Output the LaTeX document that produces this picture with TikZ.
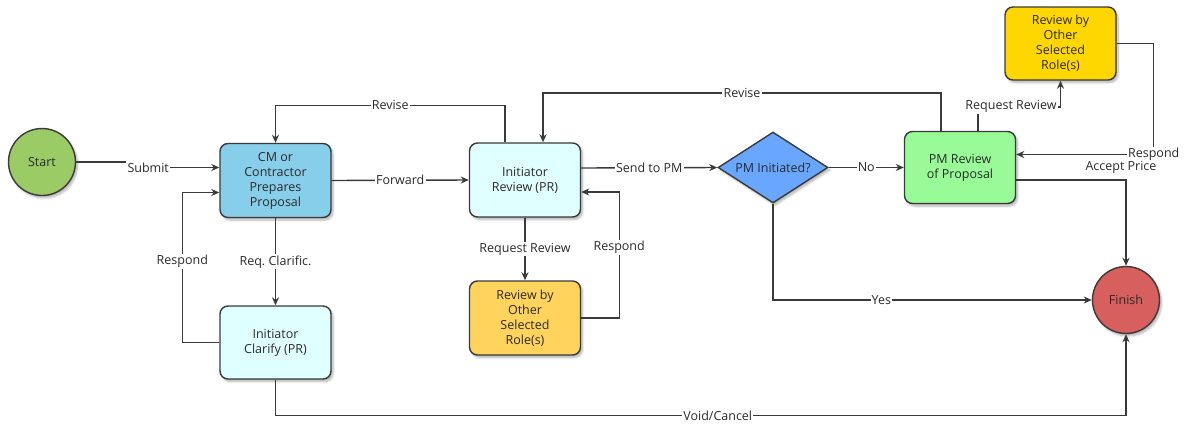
\documentclass[tikz,border=0pt]{standalone}
\usepackage{fontspec}
\setmainfont{Open Sans}
\usetikzlibrary{shapes.geometric,arrows.meta,shadows.blur}

\definecolor{linec}{HTML}{3A3A3A}
\definecolor{textc}{HTML}{2A2A2A}
\definecolor{startc}{HTML}{9BCB65}
\definecolor{cmc}{HTML}{87CEEB}
\definecolor{initc}{HTML}{E0FFFF}
\definecolor{otherc}{HTML}{FFD35C}
\definecolor{diac}{HTML}{68A6FF}
\definecolor{pmc}{HTML}{98FB98}
\definecolor{goldc}{HTML}{FFD700}
\definecolor{finc}{HTML}{D75F5E}

\begin{document}
\frenchspacing
\begin{tikzpicture}[x=1pt,y=-1pt,
  txt/.style={font=\fontsize{12.5}{15}\selectfont, text=textc},
  shadowed/.style={blur shadow={shadow xshift=2pt, shadow yshift=-2.5pt,
      shadow opacity=30, shadow blur steps=6}},
  box/.style={txt, shadowed, rectangle, rounded corners=8pt, draw=linec,
      line width=1.4pt, minimum width=111pt, minimum height=74pt,
      align=center, inner sep=2pt},
  term/.style={txt, shadowed, circle, draw=linec, line width=1.4pt,
      minimum size=67pt, inner sep=0pt},
  decision/.style={txt, shadowed, diamond, aspect=1.55, draw=linec,
      line width=1.4pt, minimum width=110pt, minimum height=71pt, inner sep=0pt},
  flow/.style={draw=linec, line width=1.4pt,
      -{Stealth[length=8pt, width=7pt, inset=2.5pt]}},
  lbl/.style={txt, fill=white, inner sep=1.2pt}
]
\useasboundingbox (0,0) rectangle (1188,424);

% process steps
\node[term, fill=startc] (start) at (42,162) {Start};
\node[box, fill=cmc] (cm) at (275.5,180.5) {CM or\\Contractor\\Prepares\\Proposal};
\node[box, fill=initc, minimum height=73pt] (clar) at (275.5,342.5) {Initiator\\Clarify (PR)};
\node[box, fill=initc] (ir) at (525,180) {Initiator\\Review (PR)};
\node[box, fill=otherc] (rv1) at (525,318) {Review by\\Other\\Selected\\Role(s)};
\node[decision, fill=diac] (dia) at (773,167.5) {PM Initiated?};
\node[box, fill=pmc, minimum height=72pt] (pm) at (960,167.5) {PM Review\\of Proposal};
\node[box, fill=goldc, minimum height=73pt] (rv2) at (1060.5,43.5) {Review by\\Other\\Selected\\Role(s)};
\node[term, fill=finc] (fin) at (1126,300) {Finish};

% connectors
\draw[flow] (start.east) -- ++(72,0) |- node[lbl, pos=0.5]{Submit} ([yshift=13pt]cm.west);
\draw[flow] (cm.east) -- node[lbl]{Forward} (ir.west);
\draw[flow] ([xshift=-20pt]ir.north) -- ++(0,-37) -| node[lbl, pos=0.25]{Revise} (cm.north);
\draw[flow] (cm.south) -- node[lbl]{Req. Clarific.} (clar.north);
\draw[flow] (clar.west) -- ++(-37,0) |- node[lbl, pos=0.27]{Respond} ([yshift=-12pt]cm.west);
\draw[flow] ([yshift=12pt]ir.east) -- node[lbl]{Send to PM} (dia.west);
\draw[flow] (ir.south) -- node[lbl]{Request Review} (rv1.north);
\draw[flow] (rv1.east) -- ++(38,0) |- node[lbl, pos=0.28]{Respond} ([yshift=-12pt]ir.east);
\draw[flow] (dia.east) -- node[lbl]{No} (pm.west);
\draw[flow] ([xshift=-19pt]pm.north) -- ++(0,-38) -| node[lbl, pos=0.25]{Revise} ([xshift=18pt]ir.north);
\draw[flow] ([xshift=18pt]pm.north) -- ++(0,-24) -| node[lbl, pos=0.2]{Request Review} (rv2.south);
\draw[flow] (rv2.east) -- ++(37,0) |- node[lbl, pos=0.5]{Respond} ([yshift=13pt]pm.east);
\draw[flow] ([yshift=-12.5pt]pm.east) -| node[txt, pos=0.5, xshift=-5pt, yshift=13pt]{Accept Price} (fin.north);
\draw[flow] (dia.south) |- node[lbl, pos=0.67]{Yes} (fin.west);
\draw[flow] (clar.south) -- ++(0,36) -| node[lbl, pos=0.26]{Void/Cancel} (fin.south);
\end{tikzpicture}
\end{document}
